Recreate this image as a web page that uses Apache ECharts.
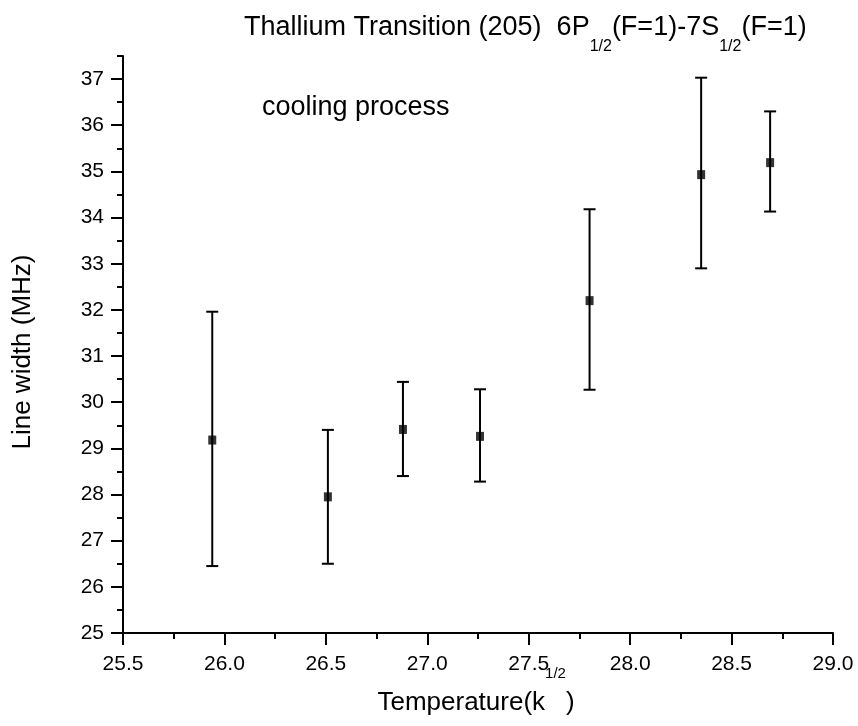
<!DOCTYPE html>
<html><head><meta charset="utf-8">
<script src="https://cdn.jsdelivr.net/npm/echarts@6/dist/echarts.min.js"></script>
<style>html,body{margin:0;padding:0;background:#fff}#c{width:858px;height:726px}</style>
</head><body><div id="c"></div>
<script>
// Data
const temperature = [25.94, 26.51, 26.88, 27.26, 27.80, 28.35, 28.69];
const lineWidth   = [29.18, 27.95, 29.41, 29.26, 32.20, 34.93, 35.19];
const barLow      = [26.45, 26.50, 28.40, 28.28, 30.27, 32.90, 34.13];
const barHigh     = [31.96, 29.40, 30.44, 30.28, 34.18, 37.03, 36.30];
const yTickValues = [25, 26, 27, 28, 29, 30, 31, 32, 33, 34, 35, 36, 37];
const xTickValues = [25.5, 26.0, 26.5, 27.0, 27.5, 28.0, 28.5, 29.0];

const FONT = "'Liberation Sans', Arial, Helvetica, sans-serif";
const black = '#000';
const chart = echarts.init(document.getElementById('c'), null, {renderer: 'canvas'});

const pointData = temperature.map((t, i) => [t, lineWidth[i]]);
const barData = temperature.map((t, i) => [t, barLow[i], barHigh[i]]);

const lineStyle2 = {color: black, width: 2};

chart.setOption({
  animation: false,
  backgroundColor: '#fff',
  title: {
    left: 244, top: 14, padding: 0,
    text: '{m|Thallium Transition (205)  6P}{s|1/2}{m|(F=1)-7S}{s|1/2}{m|(F=1)}',
    textStyle: {
      fontFamily: FONT, color: black, fontWeight: 'normal',
      rich: {
        m: {fontFamily: FONT, fontSize: 27, fontWeight: 'normal', color: black, verticalAlign: 'top', lineHeight: 30},
        s: {fontFamily: FONT, fontSize: 16, fontWeight: 'normal', color: black, verticalAlign: 'top', padding: [25, 0, 0, 0]}
      }
    }
  },
  grid: {left: 123, right: 25, top: 56, bottom: 93, containLabel: false},
  xAxis: {
    type: 'value', min: xTickValues[0], max: xTickValues[xTickValues.length - 1], interval: 0.5,
    axisLine: {show: true, lineStyle: lineStyle2},
    axisTick: {show: true, length: 12, lineStyle: lineStyle2},
    minorTick: {show: true, splitNumber: 2, length: 6, lineStyle: lineStyle2},
    splitLine: {show: false}, minorSplitLine: {show: false},
    axisLabel: {margin: 21, fontSize: 21, fontFamily: FONT, color: black, formatter: v => v.toFixed(1)}
  },
  yAxis: [{
    type: 'value', min: 25, max: 37.5, interval: 0.5, position: 'left',
    axisLine: {show: true, lineStyle: lineStyle2},
    axisTick: {show: true, length: 6, lineStyle: lineStyle2},
    axisLabel: {show: false},
    splitLine: {show: false}
  }, {
    type: 'value', min: 25, max: 37.5, interval: 0.5, position: 'left', offset: 0,
    axisLine: {show: false},
    axisTick: {show: true, length: 12, lineStyle: lineStyle2, customValues: yTickValues},
    axisLabel: {show: true, margin: 19, fontSize: 21, fontFamily: FONT, color: black, customValues: yTickValues},
    splitLine: {show: false}
  }],
  graphic: [
    {type: 'text', x: 23, y: 352, rotation: Math.PI / 2,
     style: {text: 'Line width (MHz)', font: '26px ' + FONT, fill: black, align: 'center', verticalAlign: 'middle'}},
    {type: 'text', x: 262, y: 108,
     style: {text: 'cooling process', font: '27px ' + FONT, fill: black, align: 'left', verticalAlign: 'middle'}},
    {type: 'text', x: 476, y: 666,
     style: {text: '{m|Temperature(k}{u|1/2}{m|)}', fill: black, align: 'center', verticalAlign: 'top',
       rich: {
         m: {fontFamily: FONT, fontSize: 26, fill: black, verticalAlign: 'top', padding: [24, 0, 0, 0]},
         u: {fontFamily: FONT, fontSize: 15, fill: black, verticalAlign: 'top'}
       }}}
  ],
  series: [{
    type: 'custom', xAxisIndex: 0, yAxisIndex: 0, data: barData, encode: {x: 0, y: [1, 2]}, z: 2,
    renderItem: function (params, api) {
      const x = api.value(0);
      const pLo = api.coord([x, api.value(1)]);
      const pHi = api.coord([x, api.value(2)]);
      const hw = 6;
      const st = {stroke: black, lineWidth: 2};
      return {type: 'group', children: [
        {type: 'line', shape: {x1: pLo[0], y1: pLo[1], x2: pHi[0], y2: pHi[1]}, style: st},
        {type: 'line', shape: {x1: pLo[0] - hw, y1: pLo[1], x2: pLo[0] + hw, y2: pLo[1]}, style: st},
        {type: 'line', shape: {x1: pHi[0] - hw, y1: pHi[1], x2: pHi[0] + hw, y2: pHi[1]}, style: st}
      ]};
    }
  }, {
    type: 'scatter', xAxisIndex: 0, yAxisIndex: 0, data: pointData, z: 3,
    symbol: 'rect', symbolSize: [8, 9],
    itemStyle: {color: black, borderColor: black, borderWidth: 0}
  }]
});
</script>
</body></html>
